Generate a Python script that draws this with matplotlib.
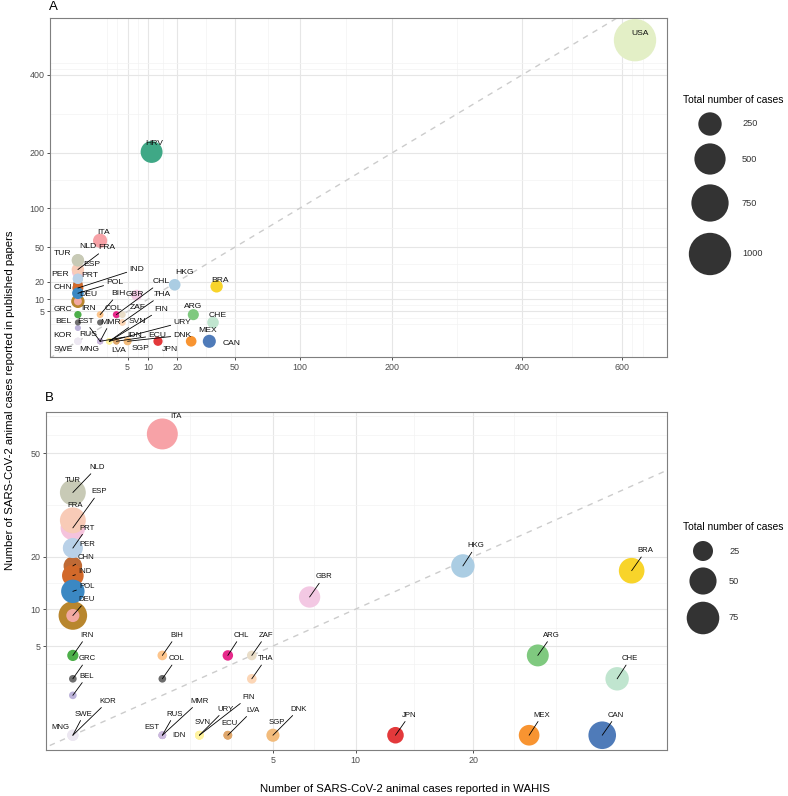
import numpy as np
import matplotlib
matplotlib.use("Agg")
from matplotlib import pyplot as plt

plt.rcParams["font.family"] = ["Liberation Sans", "DejaVu Sans"]

# datos por país (orden de dibujo)
countries = ["ARG", "BEL", "BIH", "BRA", "CAN", "CHE", "CHL", "CHN", "COL", "",
             "DEU", "DNK", "ECU", "ESP", "EST", "FIN", "FRA", "GBR", "GRC", "HKG",
             "HRV", "IDN", "IND", "IRN", "ITA", "JPN", "KOR", "LVA", "MEX", "MMR",
             "MNG", "NLD", "PER", "POL", "PRT", "RUS", "SGP", "SVN", "SWE", "THA",
             "TUR", "URY", "USA", "ZAF"]
wahis = [27, 0, 1, 39, 35, 37, 3, 0, 1, 0,
         0, 5, 3, 0, 1, 2, 0, 7, 0, 19,
         11, 1, 0, 0, 1, 13, 0, 3, 26, 1,
         0, 0, 0, 0, 0, 1, 5, 2, 0, 4,
         0, 2, 629, 4]
papers = [4, 1, 4, 17, 0, 2, 4, 18, 2, 9,
          9, 0, 0, 27, 0, 0, 29, 12, 2, 18,
          202, 0, 16, 4, 57, 0, 0, 0, 0, 0,
          0, 37, 22, 13, 22, 0, 0, 0, 0, 2,
          37, 0, 511, 4]
total = [31, 2, 4, 44, 52, 36, 5, 21, 2, 56,
         9, 6, 3, 40, 2, 3, 45, 29, 2, 36,
         213, 2, 30, 6, 67, 16, 5, 3, 27, 2,
         6, 40, 22, 36, 25, 2, 9, 3, 6, 4,
         45, 3, 1000, 4]
colors = ["#7fc97f", "#bcb3da", "#fdc58c", "#f8d42a", "#4f7bb9", "#c0e5cf", "#e7298a",
          "#bf6a35", "#6b6b6b", "#b8862e", "#f2a9a2", "#f4bd80", "#dfa76c", "#f5c3dc",
          "#cbb9dd", "#fff3a0", "#f8cbb7", "#f3c8e3", "#6f6f6f", "#abcde3", "#3fa886",
          "#cbb9dd", "#d2692a", "#4daf4a", "#f7a2a7", "#e3393b", "#ece7f1", "#dfa76c",
          "#f89431", "#cbb9dd", "#ece7f1", "#c8cab6", "#a9c9e6", "#3b88c3", "#b9d1e8",
          "#cbb9dd", "#f2bb7b", "#fff3a0", "#ece7f1", "#fcd6b6", "#c8cab6", "#fff3a0",
          "#e3efc6", "#e9ddc8"]

legend_a = [250, 500, 750, 1000]
legend_b = [25, 50, 75]

# posiciones de las etiquetas (desplazamiento en px respecto al punto)
off_a = {"ARG": (0, 8), "BEL": (-15, 6), "BIH": (18, 21), "BRA": (3, 6), "CAN": (22, -2),
         "CHE": (5, 7), "CHL": (45, 33), "CHN": (-15, -3), "COL": (13, 14), "DEU": (10, 7),
         "DNK": (55, 6), "ECU": (41, 6), "ESP": (14, 8), "EST": (-15, 20), "FIN": (52, 32),
         "FRA": (29, 22), "GBR": (-2, 1), "GRC": (-15, 13), "HKG": (10, 12), "HRV": (3, 8),
         "IDN": (35, 6), "IND": (59, 19), "IRN": (11, 6), "ITA": (3, 8), "JPN": (12, -8),
         "KOR": (-15, 6), "LVA": (2, -9), "MEX": (16, 11), "MMR": (10, 19), "MNG": (11, -8),
         "NLD": (10, 14), "PER": (-18, 4), "POL": (37, 11), "PRT": (12, 3), "RUS": (-12, 7),
         "SGP": (13, -7), "SVN": (28, 20), "SWE": (-15, -8), "THA": (40, 28), "TUR": (-15, 7),
         "URY": (73, 19), "USA": (5, 7), "ZAF": (15, 7)}
seg_a = {"FRA", "IND", "POL", "BIH", "CHL", "THA", "FIN", "EST", "MMR", "SVN", "URY",
         "IDN", "ECU", "DNK"}
off_b = {"ARG": (14, 20), "BEL": (14, 19), "BIH": (14, 20), "BRA": (14, 20), "CAN": (14, 20),
         "CHE": (13, 20), "CHL": (13, 20), "CHN": (13, 8), "COL": (14, 20), "DEU": (14, 16),
         "DNK": (26, 26), "ECU": (2, 12), "ESP": (26, 36), "EST": (-10, 8), "FIN": (49, 38),
         "FRA": (2, 15), "GBR": (14, 20), "GRC": (14, 20), "HKG": (13, 20), "IDN": (17, 0),
         "IND": (12, 4), "IRN": (14, 20), "ITA": (14, 17), "JPN": (14, 20), "KOR": (35, 34),
         "LVA": (25, 25), "MEX": (13, 20), "MMR": (37, 34), "MNG": (-12, 8), "NLD": (24, 25),
         "PER": (14, 4), "POL": (14, 5), "PRT": (14, 20), "RUS": (12, 21), "SGP": (4, 13),
         "SVN": (3, 13), "SWE": (11, 21), "THA": (14, 20), "TUR": (0, 12), "URY": (26, 26),
         "ZAF": (14, 20)}
noseg_b = {"ITA", "TUR", "FRA", "PER", "MNG", "EST", "IDN", "SVN", "ECU", "SGP"}

W, H = 788, 796
fig = plt.figure(figsize=(W / 100, H / 100), dpi=100)


def fwd(v):
    return np.sign(v) * np.sqrt(np.abs(v))


def inv(v):
    return np.sign(v) * np.square(v)


def minor_breaks(major, lim):
    b = list(np.sqrt(major))
    bd = b[1] - b[0]
    if lim[0] < b[0]:
        b = [b[0] - bd] + b
    if lim[1] > b[-1]:
        b = b + [b[-1] + bd]
    out = []
    for a, c in zip(b[:-1], b[1:]):
        out += [a, (a + c) / 2]
    out.append(b[-1])
    return [inv(v) for v in out if lim[0] <= v <= lim[1]]


def size_fn(a, b):
    # radio en px -> area de scatter en pt^2
    return lambda v: (2 * (a + b * np.sqrt(np.asarray(v, float))) * 0.72) ** 2


def panel(box, xlim, ylim, xt, yt, sizef, mask, offs, seg, fs):
    l, t, r, bt = box
    ax = fig.add_axes([l / W, 1 - bt / H, (r - l) / W, (bt - t) / H])
    ax.set_xscale("function", functions=(fwd, inv))
    ax.set_yscale("function", functions=(fwd, inv))
    ax.set_xlim(inv(xlim[0]), inv(xlim[1]))
    ax.set_ylim(inv(ylim[0]), inv(ylim[1]))
    ax.set_xticks(xt)
    ax.set_xticklabels([str(v) for v in xt])
    ax.set_yticks(yt)
    ax.set_yticklabels([str(v) for v in yt])
    ax.set_xticks(minor_breaks(xt, xlim), minor=True)
    ax.set_yticks(minor_breaks(yt, ylim), minor=True)
    ax.tick_params(which="minor", length=0)
    ax.tick_params(which="major", length=2.5, width=0.6, color="#333333",
                   labelsize=6.4, labelcolor="#4d4d4d", pad=1.5)
    ax.grid(which="minor", color="#f3f3f3", lw=0.5)
    ax.grid(which="major", color="#e6e6e6", lw=0.8)
    ax.set_axisbelow(True)
    for s in ax.spines.values():
        s.set_color("#7f7f7f")
        s.set_linewidth(0.8)
    ax.plot([inv(-3), inv(40)], [inv(-3), inv(40)], color="#cccccc", lw=1,
            dashes=(4, 4), zorder=1)
    xs = [x for x, m in zip(wahis, mask) if m]
    ys = [y for y, m in zip(papers, mask) if m]
    ns = [n for n, m in zip(countries, mask) if m]
    ss = [sizef(v) for v, m in zip(total, mask) if m]
    cs = [c for c, m in zip(colors, mask) if m]
    ax.scatter(xs, ys, s=ss, c=cs, edgecolors="none", zorder=3)
    for n, x, y in zip(ns, xs, ys):
        if n not in offs:
            continue
        props = None
        if seg(n):
            props = dict(arrowstyle="-", color="black", lw=0.6, shrinkA=0, shrinkB=0)
        ax.annotate(n, (x, y), xytext=offs[n], textcoords="offset pixels",
                    ha="center", va="center", fontsize=fs, color="#111111",
                    arrowprops=props, zorder=5)
    return ax


size_a = size_fn(2.2, 0.6)
size_b = size_fn(1.4, 1.72)

mask_a = [True] * len(countries)
mask_b = [x < 100 and y < 100 for x, y in zip(wahis, papers)]

panel((50, 18, 667, 357), (-1.256, 26.52), (-1.18, 24.27),
      [5, 10, 20, 50, 100, 200, 400, 600], [5, 10, 20, 50, 100, 200, 400],
      size_a, mask_a, off_a, lambda n: n in seg_a, 6.1)
panel((46, 412, 667, 750), (-0.30, 6.64), (-0.37, 8.10),
      [5, 10, 20], [5, 10, 20, 50],
      size_b, mask_b, off_b, lambda n: n not in noseg_b, 5.6)

# leyendas y textos
lg = fig.add_axes([0, 0, 1, 1], zorder=-1)
lg.set_xlim(0, W)
lg.set_ylim(H, 0)
lg.axis("off")

lg.text(683, 100, "Total number of cases", fontsize=7.4, va="center", ha="left")
ya = [124, 159, 203, 254]
lg.scatter([710] * len(legend_a), ya, s=size_a(legend_a), c="#333333", edgecolors="none")
for v, y in zip(legend_a, ya):
    lg.text(742, y, str(v), fontsize=6.6, va="center", ha="left", color="#333333")

lg.text(683, 527, "Total number of cases", fontsize=7.4, va="center", ha="left")
yb = [551, 581, 618]
lg.scatter([703] * len(legend_b), yb, s=size_b(legend_b), c="#333333", edgecolors="none")
for v, y in zip(legend_b, yb):
    lg.text(729, y, str(v), fontsize=6.6, va="center", ha="left", color="#333333")

lg.text(49, 7, "A", fontsize=9.5, va="center", ha="left")
lg.text(45, 398, "B", fontsize=9.5, va="center", ha="left")
lg.text(10, 400, "Number of SARS-CoV-2 animal cases reported in published papers",
        rotation=90, fontsize=8.2, va="center", ha="center")
lg.text(405, 789, "Number of SARS-CoV-2 animal cases reported in WAHIS",
        fontsize=8.2, va="center", ha="center")

fig.savefig("out.png", dpi=100)
